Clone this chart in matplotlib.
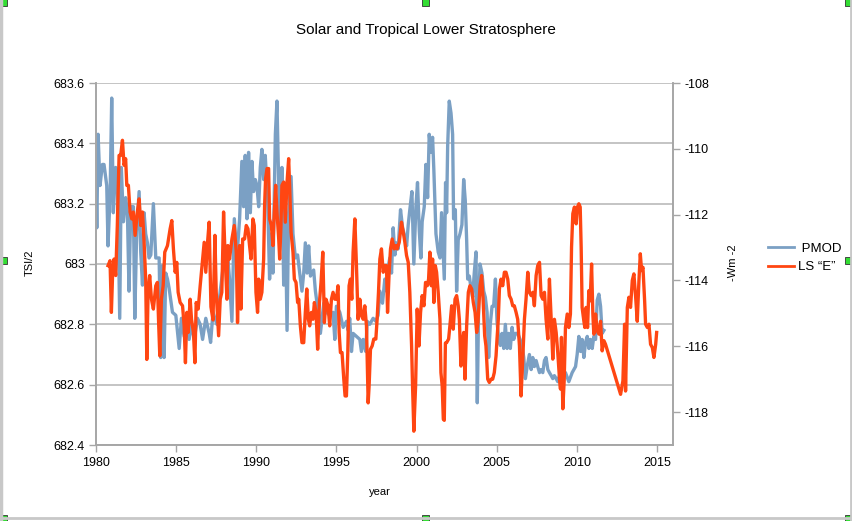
#
import numpy as np
from matplotlib import pyplot as plt
from matplotlib.patches import Rectangle
from matplotlib.lines import Line2D

plt.rcParams['font.family'] = ['Liberation Sans', 'DejaVu Sans']

# PMOD (TSI/2)
pmod_year = [1980.0, 1980.05, 1980.13, 1980.25, 1980.4, 1980.5, 1980.67, 1980.75, 1980.88, 1980.98,
             1981.08, 1981.23, 1981.33, 1981.48, 1981.58, 1981.71, 1981.85, 1981.96, 1982.06, 1982.17,
             1982.33, 1982.42, 1982.54, 1982.69, 1982.79, 1982.9, 1983.0, 1983.1, 1983.21, 1983.31,
             1983.42, 1983.58, 1983.73, 1983.94, 1984.04, 1984.15, 1984.25, 1984.35, 1984.46, 1984.56,
             1984.77, 1984.98, 1985.19, 1985.33, 1985.5, 1985.67, 1985.81, 1985.96, 1986.13, 1986.33,
             1986.5, 1986.65, 1986.85, 1987.06, 1987.15, 1987.3, 1987.54, 1987.75, 1987.96, 1988.17,
             1988.33, 1988.48, 1988.63, 1988.79, 1988.96, 1989.1, 1989.21, 1989.31, 1989.42, 1989.52,
             1989.63, 1989.73, 1989.83, 1989.94, 1990.04, 1990.15, 1990.25, 1990.35, 1990.46, 1990.56,
             1990.71, 1990.83, 1990.94, 1991.04, 1991.19, 1991.29, 1991.4, 1991.5, 1991.6, 1991.71,
             1991.81, 1991.92, 1992.02, 1992.17, 1992.29, 1992.44, 1992.58, 1992.71, 1992.85, 1992.96,
             1993.06, 1993.17, 1993.27, 1993.38, 1993.48, 1993.58, 1993.69, 1993.79, 1993.9, 1994.0,
             1994.21, 1994.38, 1994.58, 1994.79, 1994.9, 1995.0, 1995.21, 1995.42, 1995.63, 1995.73,
             1995.83, 1995.94, 1996.04, 1996.25, 1996.46, 1996.56, 1996.67, 1996.83, 1996.92, 1997.08,
             1997.29, 1997.46, 1997.6, 1997.71, 1997.875, 1998.02, 1998.13, 1998.23, 1998.33, 1998.44,
             1998.54, 1998.65, 1998.75, 1998.85, 1999.0, 1999.13, 1999.27, 1999.38, 1999.48, 1999.58,
             1999.71, 1999.83, 1999.96, 2000.06, 2000.17, 2000.27, 2000.35, 2000.48, 2000.58, 2000.69,
             2000.79, 2000.9, 2001.0, 2001.08, 2001.21, 2001.35, 2001.46, 2001.56, 2001.65, 2001.73,
             2001.81, 2001.875, 2001.94, 2002.04, 2002.15, 2002.25, 2002.31, 2002.42, 2002.5, 2002.6,
             2002.71, 2002.83, 2002.94, 2003.04, 2003.125, 2003.19, 2003.29, 2003.4, 2003.5, 2003.6,
             2003.71, 2003.79, 2003.875, 2003.96, 2004.08, 2004.19, 2004.29, 2004.4, 2004.5, 2004.6,
             2004.71, 2004.81, 2004.92, 2005.02, 2005.125, 2005.23, 2005.33, 2005.44, 2005.54, 2005.65,
             2005.75, 2005.85, 2005.96, 2006.06, 2006.17, 2006.31, 2006.46, 2006.58, 2006.69, 2006.79,
             2006.9, 2007.04, 2007.15, 2007.25, 2007.35, 2007.46, 2007.56, 2007.67, 2007.77, 2007.875,
             2007.98, 2008.08, 2008.19, 2008.29, 2008.4, 2008.5, 2008.6, 2008.71, 2008.81, 2008.92,
             2009.08, 2009.29, 2009.5, 2009.71, 2009.92, 2010.02, 2010.125, 2010.23, 2010.33, 2010.44,
             2010.54, 2010.65, 2010.75, 2010.85, 2010.96, 2011.06, 2011.17, 2011.27, 2011.375, 2011.48,
             2011.58, 2011.69]
pmod_val = [683.26, 683.12, 683.43, 683.26, 683.33, 683.33, 683.26, 683.06, 683.23, 683.55,
            683.17, 683.32, 683.31, 682.82, 683.32, 683.14, 683.22, 683.17, 682.91, 683.19,
            683.19, 682.82, 683.11, 683.24, 683.04, 682.93, 683.17, 683.10, 683.07, 683.02,
            683.03, 683.20, 683.02, 683.02, 682.69, 682.995, 682.69, 682.97, 682.95, 682.92,
            682.84, 682.83, 682.72, 682.82, 682.76, 682.80, 682.75, 682.80, 682.75, 682.82,
            682.80, 682.75, 682.82, 682.77, 682.74, 682.84, 682.80, 682.91, 683.00, 683.06,
            682.95, 682.81, 683.15, 683.02, 683.15, 683.34, 683.19, 683.36, 683.15, 683.37,
            683.17, 683.34, 683.24, 683.28, 683.26, 683.19, 683.32, 683.38, 683.28, 683.36,
            683.21, 682.95, 683.10, 682.97, 683.43, 683.54, 683.26, 683.10, 683.32, 682.93,
            683.17, 682.78, 683.17, 683.29, 683.10, 683.02, 683.03, 682.97, 682.91, 682.97,
            683.07, 682.97, 683.06, 682.96, 682.97, 682.98, 682.91, 682.87, 682.84, 682.77,
            682.87, 682.84, 682.83, 682.84, 682.75, 682.86, 682.84, 682.79, 682.81, 682.78,
            682.82, 682.71, 682.77, 682.76, 682.75, 682.71, 682.75, 682.71, 682.81, 682.80,
            682.82, 682.81, 682.83, 682.91, 682.87, 682.95, 682.91, 682.99, 683.02, 682.97,
            683.12, 683.03, 683.07, 683.05, 683.18, 683.12, 683.09, 683.06, 683.13, 683.18,
            683.24, 683.00, 683.19, 683.27, 683.11, 683.02, 683.14, 683.19, 683.33, 683.22,
            683.43, 683.37, 683.42, 683.31, 683.10, 683.04, 683.02, 683.17, 683.05, 682.95,
            683.27, 683.17, 683.39, 683.54, 683.50, 683.43, 683.15, 683.18, 682.91, 683.08,
            683.10, 683.13, 683.28, 683.21, 683.08, 682.95, 682.96, 682.92, 682.89, 682.97,
            683.04, 682.54, 682.87, 683.00, 682.97, 682.91, 682.89, 682.84, 682.69, 682.80,
            682.86, 682.86, 682.95, 682.81, 682.75, 682.73, 682.77, 682.72, 682.80, 682.72,
            682.77, 682.72, 682.79, 682.75, 682.77, 682.77, 682.75, 682.73, 682.69, 682.62,
            682.66, 682.70, 682.65, 682.69, 682.66, 682.68, 682.66, 682.64, 682.65, 682.64,
            682.68, 682.69, 682.65, 682.64, 682.63, 682.62, 682.63, 682.62, 682.61, 682.63,
            682.63, 682.64, 682.61, 682.64, 682.66, 682.70, 682.76, 682.71, 682.75, 682.69,
            682.74, 682.76, 682.72, 682.75, 682.72, 682.76, 682.75, 682.88, 682.90, 682.86,
            682.77, 682.78]

# LS "E" (-Wm-2)
ls_year = [1980.75, 1980.875, 1980.96, 1981.04, 1981.125, 1981.23, 1981.33, 1981.44, 1981.54, 1981.65,
           1981.75, 1981.85, 1981.92, 1982.02, 1982.125, 1982.23, 1982.33, 1982.44, 1982.58, 1982.69,
           1982.79, 1982.9, 1983.0, 1983.1, 1983.17, 1983.25, 1983.35, 1983.46, 1983.58, 1983.73,
           1983.83, 1983.9, 1983.98, 1984.08, 1984.19, 1984.29, 1984.46, 1984.625, 1984.73, 1984.83,
           1984.94, 1985.04, 1985.125, 1985.25, 1985.4, 1985.5, 1985.58, 1985.67, 1985.75, 1985.875,
           1985.96, 1986.08, 1986.17, 1986.25, 1986.375, 1986.5, 1986.65, 1986.75, 1986.85, 1986.96,
           1987.06, 1987.17, 1987.3, 1987.42, 1987.5, 1987.65, 1987.75, 1987.85, 1987.96, 1988.06,
           1988.17, 1988.23, 1988.33, 1988.48, 1988.625, 1988.75, 1988.83, 1988.96, 1989.04, 1989.15,
           1989.27, 1989.375, 1989.48, 1989.58, 1989.67, 1989.79, 1989.875, 1989.98, 1990.08, 1990.15,
           1990.25, 1990.35, 1990.46, 1990.52, 1990.58, 1990.67, 1990.77, 1990.83, 1990.94, 1991.04,
           1991.125, 1991.21, 1991.29, 1991.4, 1991.46, 1991.54, 1991.6, 1991.71, 1991.81, 1991.92,
           1992.02, 1992.08, 1992.17, 1992.29, 1992.375, 1992.48, 1992.58, 1992.65, 1992.75, 1992.85,
           1992.96, 1993.06, 1993.15, 1993.25, 1993.33, 1993.44, 1993.54, 1993.625, 1993.73, 1993.83,
           1993.94, 1994.04, 1994.15, 1994.25, 1994.35, 1994.48, 1994.58, 1994.69, 1994.79, 1994.9,
           1995.0, 1995.1, 1995.17, 1995.25, 1995.35, 1995.46, 1995.54, 1995.625, 1995.71, 1995.79,
           1995.875, 1995.96, 1996.04, 1996.15, 1996.25, 1996.35, 1996.46, 1996.56, 1996.67, 1996.77,
           1996.875, 1996.98, 1997.04, 1997.125, 1997.23, 1997.33, 1997.46, 1997.54, 1997.625, 1997.71,
           1997.81, 1997.92, 1998.02, 1998.125, 1998.19, 1998.29, 1998.375, 1998.48, 1998.6, 1998.71,
           1998.79, 1998.92, 1999.06, 1999.17, 1999.27, 1999.375, 1999.48, 1999.58, 1999.69, 1999.75,
           1999.83, 1999.94, 2000.04, 2000.15, 2000.25, 2000.35, 2000.46, 2000.56, 2000.67, 2000.75,
           2000.83, 2000.92, 2001.0, 2001.08, 2001.17, 2001.25, 2001.35, 2001.46, 2001.52, 2001.6,
           2001.67, 2001.73, 2001.8, 2001.875, 2002.0, 2002.08, 2002.19, 2002.29, 2002.4, 2002.5,
           2002.6, 2002.67, 2002.77, 2002.83, 2002.94, 2003.02, 2003.125, 2003.23, 2003.33, 2003.44,
           2003.54, 2003.65, 2003.75, 2003.83, 2003.96, 2004.06, 2004.15, 2004.25, 2004.33, 2004.44,
           2004.54, 2004.65, 2004.75, 2004.85, 2004.96, 2005.02, 2005.1, 2005.17, 2005.27, 2005.375,
           2005.48, 2005.58, 2005.69, 2005.79, 2005.9, 2006.0, 2006.1, 2006.21, 2006.31, 2006.42,
           2006.52, 2006.625, 2006.73, 2006.83, 2006.94, 2007.04, 2007.15, 2007.25, 2007.35, 2007.46,
           2007.56, 2007.67, 2007.77, 2007.875, 2007.98, 2008.08, 2008.19, 2008.29, 2008.4, 2008.5,
           2008.6, 2008.71, 2008.81, 2008.92, 2008.98, 2009.04, 2009.125, 2009.21, 2009.29, 2009.4,
           2009.5, 2009.6, 2009.67, 2009.75, 2009.85, 2009.96, 2010.04, 2010.125, 2010.21, 2010.27,
           2010.33, 2010.44, 2010.5, 2010.58, 2010.67, 2010.75, 2010.83, 2010.92, 2011.0, 2011.06,
           2011.17, 2011.27, 2011.375, 2011.48, 2011.58, 2011.69, 2011.79, 2012.73, 2012.875, 2012.98,
           2013.04, 2013.15, 2013.25, 2013.35, 2013.46, 2013.56, 2013.67, 2013.77, 2013.875, 2013.96,
           2014.04, 2014.125, 2014.23, 2014.29, 2014.4, 2014.5, 2014.6, 2014.71, 2014.81, 2014.92,
           2014.98]
ls_val = [-113.55, -113.4, -114.97, -113.75, -113.35, -113.85, -112.33, -110.2, -110.2, -109.74,
          -110.5, -110.3, -111.11, -111.11, -111.92, -112.13, -111.92, -112.63, -111.92, -111.52,
          -112.33, -111.92, -112.84, -113.96, -116.4, -114.36, -113.85, -114.57, -114.87, -114.16,
          -114.06, -115.18, -116.29, -114.57, -114.16, -113.14, -112.94, -112.43, -112.18, -113.04,
          -113.75, -113.45, -114.36, -114.67, -114.77, -115.38, -116.5, -114.97, -115.58, -114.57,
          -115.18, -115.58, -116.5, -114.67, -114.87, -114.16, -113.35, -112.84, -113.75, -112.84,
          -112.23, -114.8, -115.2, -112.63, -114.36, -115.68, -114.57, -114.36, -111.92, -113.35,
          -114.57, -112.94, -113.35, -112.74, -112.33, -113.14, -115.28, -112.94, -114.87, -112.74,
          -112.74, -112.33, -112.43, -112.94, -113.35, -112.13, -112.33, -114.36, -114.97, -113.96,
          -114.57, -114.36, -113.35, -111.72, -110.91, -110.6, -110.6, -112.13, -112.33, -112.94,
          -111.92, -111.11, -111.92, -112.74, -113.35, -112.33, -111.11, -111.01, -112.23, -111.01,
          -110.3, -111.11, -112.53, -113.14, -113.96, -114.06, -114.67, -114.57, -115.38, -115.89,
          -115.89, -114.97, -114.26, -115.18, -115.38, -114.97, -115.18, -114.67, -114.97, -116.09,
          -114.67, -114.06, -113.14, -115.28, -114.57, -114.77, -115.38, -114.57, -114.36, -114.57,
          -114.57, -114.16, -115.58, -116.19, -116.19, -117.0, -117.51, -117.51, -116.19, -114.16,
          -113.96, -114.57, -113.14, -112.13, -113.55, -115.18, -114.57, -115.07, -115.18, -114.77,
          -115.38, -117.72, -117.21, -116.09, -115.99, -115.78, -115.78, -115.18, -114.36, -113.35,
          -113.04, -113.75, -113.55, -113.55, -114.97, -113.75, -113.04, -112.74, -113.04, -112.94,
          -113.04, -112.84, -112.23, -112.53, -112.84, -113.24, -113.45, -114.36, -115.99, -117.21,
          -118.58, -117.21, -114.87, -115.99, -114.97, -114.46, -114.77, -114.06, -114.16, -113.96,
          -113.14, -114.16, -113.35, -114.67, -113.55, -113.75, -114.36, -115.18, -116.8, -117.21,
          -118.22, -118.25, -115.9, -115.89, -115.78, -115.38, -114.77, -115.48, -114.57, -114.46,
          -114.77, -115.18, -116.6, -115.99, -115.58, -117.0, -115.38, -114.36, -114.16, -114.26,
          -114.67, -114.97, -115.58, -115.28, -114.16, -113.85, -114.57, -115.68, -115.99, -117.0,
          -117.1, -117.0, -117.0, -116.8, -116.29, -115.78, -115.18, -114.26, -113.96, -114.16,
          -113.75, -113.75, -113.96, -114.46, -114.57, -114.77, -114.77, -114.97, -115.18, -115.99,
          -117.51, -116.39, -115.18, -114.57, -113.75, -114.36, -114.46, -114.36, -114.77, -113.85,
          -113.55, -113.45, -114.46, -114.57, -114.36, -115.18, -115.78, -113.96, -115.18, -116.39,
          -115.18, -115.58, -116.19, -117.0, -117.3, -115.73, -117.9, -117.05, -115.43, -115.02,
          -115.43, -115.02, -112.99, -111.97, -111.77, -112.28, -111.77, -111.67, -111.77, -112.99,
          -114.82, -115.24, -115.43, -114.82, -115.43, -114.31, -114.62, -113.5, -115.02, -115.63,
          -115.02, -115.53, -115.63, -115.24, -116.14, -115.83, -115.94, -117.46, -117.05, -115.33,
          -117.36, -114.82, -114.51, -114.82, -114.0, -113.8, -114.51, -115.24, -114.0, -113.19,
          -113.7, -113.6, -114.62, -115.33, -115.43, -115.33, -115.94, -116.04, -116.34, -115.94,
          -115.58]

left_ticks = [682.4, 682.6, 682.8, 683.0, 683.2, 683.4, 683.6]
left_labels = ["682.4", "682.6", "682.8", "683", "683.2", "683.4", "683.6"]
right_ticks = [-118, -116, -114, -112, -110, -108]
right_labels = ["-118", "-116", "-114", "-112", "-110", "-108"]
year_ticks = [1980, 1985, 1990, 1995, 2000, 2005, 2010, 2015]

W, H = 853, 521
fig = plt.figure(figsize=(W / 100, H / 100), dpi=100)
ax = fig.add_axes([96 / W, 1 - 445 / H, (673 - 96) / W, (445 - 83) / H])
ax2 = ax.twinx()

gray = '#a6a6a6'
blue = '#7ba0c4'
red = '#ff4612'

l1, = ax.plot(pmod_year, pmod_val, color=blue, lw=2.4, solid_joinstyle='round')
l2, = ax2.plot(ls_year, ls_val, color=red, lw=2.4, solid_joinstyle='round')

ax.set_xlim(1980, 2016)
ax.set_ylim(682.4, 683.6)
ax2.set_ylim(-119, -108)

ax.set_yticks(left_ticks, left_labels)
ax2.set_yticks(right_ticks, right_labels)
ax.set_xticks(year_ticks, [str(y) for y in year_ticks])

ax.grid(axis='y', color='#b4b4b4', lw=1.1)
ax.set_axisbelow(True)

for a in (ax, ax2):
    a.spines['top'].set_visible(False)
    for s in ('left', 'right', 'bottom'):
        a.spines[s].set_color(gray)
        a.spines[s].set_linewidth(1.2)
    a.tick_params(colors=gray, labelcolor='black', labelsize=9, length=5, width=1.0)
ax.tick_params(axis='y', pad=3)
ax2.tick_params(axis='y', pad=3)

fig.text(426 / W, 1 - 30 / H, "Solar and Tropical Lower Stratosphere", ha='center', va='center', fontsize=11)
fig.text(30 / W, 1 - 263 / H, "TSI/2", rotation=90, ha='center', va='center', fontsize=8)
fig.text(733 / W, 1 - 263 / H, "-Wm -2", rotation=90, ha='center', va='center', fontsize=8)
fig.text(380 / W, 1 - 492 / H, "year", ha='center', va='center', fontsize=8)

fig.legend([Line2D([], [], color=blue, lw=2), Line2D([], [], color=red, lw=2)],
           [" PMOD", "LS \u201cE\u201d"], loc='center left',
           bbox_to_anchor=(756 / W, 1 - 258 / H), frameon=False, fontsize=9.5,
           handlelength=2.0, handletextpad=0.3, labelspacing=0.45)

# chart frame and selection handles
fig.add_artist(Line2D([1.5 / W, 1.5 / W], [0, 1], color='#c8c8c8', lw=2.5, transform=fig.transFigure))
fig.add_artist(Line2D([851 / W, 851 / W], [0, 1], color='#c8c8c8', lw=2.0, transform=fig.transFigure))
fig.add_artist(Line2D([0, 1], [1 - 518 / H, 1 - 518 / H], color='#c8c8c8', lw=2.0, transform=fig.transFigure))
for hx in (3, 426, 849):
    for hy in (2, 260, 518):
        if hx == 426 and hy == 260:
            continue
        fig.add_artist(Rectangle(((hx - 3.5) / W, 1 - (hy + 3.5) / H), 7 / W, 7 / H,
                                 facecolor='#33dd33', edgecolor='#333333', lw=0.6,
                                 transform=fig.transFigure))

fig.savefig("out.png", dpi=100)
